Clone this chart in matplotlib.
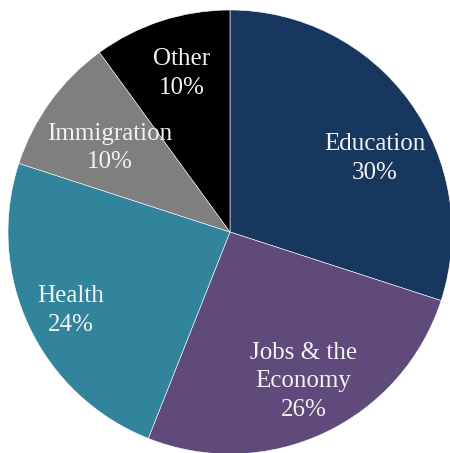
import numpy as np
import matplotlib.pyplot as plt

# Share of responses by topic
categories = ['Education', 'Jobs & the\nEconomy', 'Health', 'Immigration', 'Other']
shares = [30, 26, 24, 10, 10]
colors = ['#17375E', '#604A7B', '#31849B', '#7F7F7F', '#000000']

# label placement (fraction of radius) and small angle nudges, like Excel's layout
label_dist = [0.73, 0.75, 0.80, 0.66, 0.745]
angle_nudge = [-9, 1, 1, 1, -1]

plt.rcParams['font.family'] = ['Liberation Serif', 'DejaVu Serif']

fig = plt.figure(figsize=(4.5, 4.53), dpi=100)
ax = fig.add_axes([8 / 450, -1 / 453, 444 / 450, 444 / 453])

wedges, _ = ax.pie(shares, colors=colors, startangle=90, counterclock=False,
                   radius=1.0, wedgeprops=dict(edgecolor='white', linewidth=0.4))

for w, lab, val, d, nud in zip(wedges, categories, shares, label_dist, angle_nudge):
    mid = np.deg2rad((w.theta1 + w.theta2) / 2 + nud)
    ax.text(d * np.cos(mid), d * np.sin(mid), f'{lab}\n{val}%',
            ha='center', va='center', color='#F2F2F2', fontsize=18,
            linespacing=1.4)

ax.set_xlim(-1, 1)
ax.set_ylim(-1, 1)
ax.set_aspect('equal')
ax.axis('off')

fig.savefig('out.png', dpi=100)
